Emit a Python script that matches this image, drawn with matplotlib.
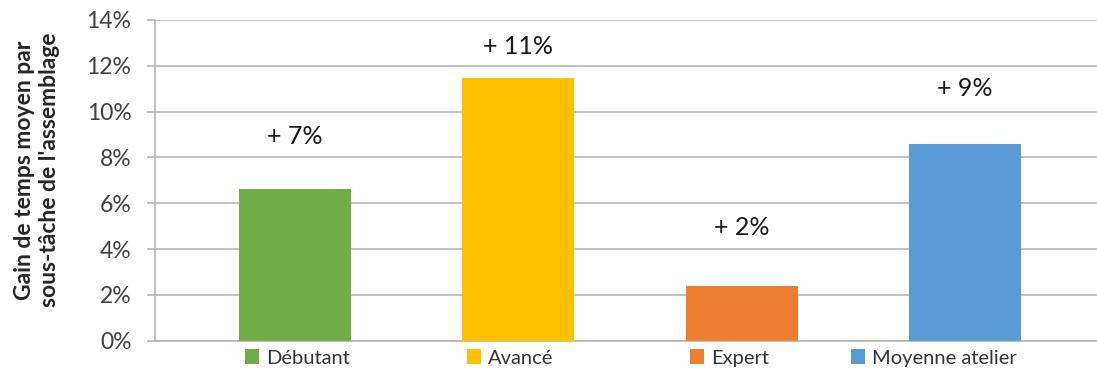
import matplotlib
matplotlib.use("Agg")
import matplotlib.pyplot as plt
from matplotlib.patches import Patch
from matplotlib.ticker import FuncFormatter, MultipleLocator

plt.rcParams['font.family'] = ['Lato', 'DejaVu Sans']

categories = ["Débutant", "Avancé", "Expert", "Moyenne atelier"]
values = [6.62, 11.46, 2.40, 8.59]
labels = ["+ 7%", "+ 11%", "+ 2%", "+ 9%"]
label_y = [8.9, 12.85, 4.95, 11.0]
colors = ["#70AD47", "#FFC000", "#ED7D31", "#5B9BD5"]

fig = plt.figure(figsize=(10.97, 3.72), dpi=100)
ax = fig.add_axes([155 / 1097, 1 - 340.7 / 372, 1 - 155 / 1097, (340.7 - 20) / 372])

x = list(range(len(categories)))
ax.bar(x, values, width=0.5, color=colors, zorder=3)
for xi, lab, ly in zip(x, labels, label_y):
    ax.text(xi, ly, lab, ha='center', va='center', fontsize=18, color='#1a1a1a')

ax.set_xlim(-0.626, 3.59)
ax.set_ylim(0, 14)
ax.yaxis.set_major_locator(MultipleLocator(2))
ax.yaxis.set_major_formatter(FuncFormatter(lambda v, p: f"{v:.0f}%"))
ax.grid(axis='y', color='#b0b0b0', linewidth=1.1, zorder=0)
ax.set_xticks([])
for s in ['top', 'right']:
    ax.spines[s].set_visible(False)
ax.spines['left'].set_color('#b0b0b0')
ax.spines['bottom'].set_color('#b0b0b0')
ax.spines['left'].set_linewidth(1.1)
ax.spines['bottom'].set_linewidth(1.1)
ax.tick_params(axis='y', direction='out', length=6, width=1.1, color='#b0b0b0',
               pad=11, labelsize=16.5, labelcolor='#404040')

fig.text(37 / 1097, 1 - 170 / 372, "Gain de temps moyen par\nsous-tâche de l'assemblage",
         rotation=90, ha='center', va='center', fontsize=16.5, fontweight='bold',
         multialignment='center', linespacing=1.2, color='#262626')

legend_x = [245, 467, 690, 851]
for cat, col, lx in zip(categories, colors, legend_x):
    h = Patch(facecolor=col, edgecolor='none')
    lg = fig.legend([h], [cat], loc='center left', bbox_to_anchor=(lx / 1097, 1 - 358 / 372),
                    frameon=False, fontsize=14.5, handlelength=0.7, handleheight=0.7,
                    handletextpad=0.35, borderpad=0, borderaxespad=0)
    for t in lg.get_texts():
        t.set_color('#333333')

fig.savefig("out.png", dpi=100)
